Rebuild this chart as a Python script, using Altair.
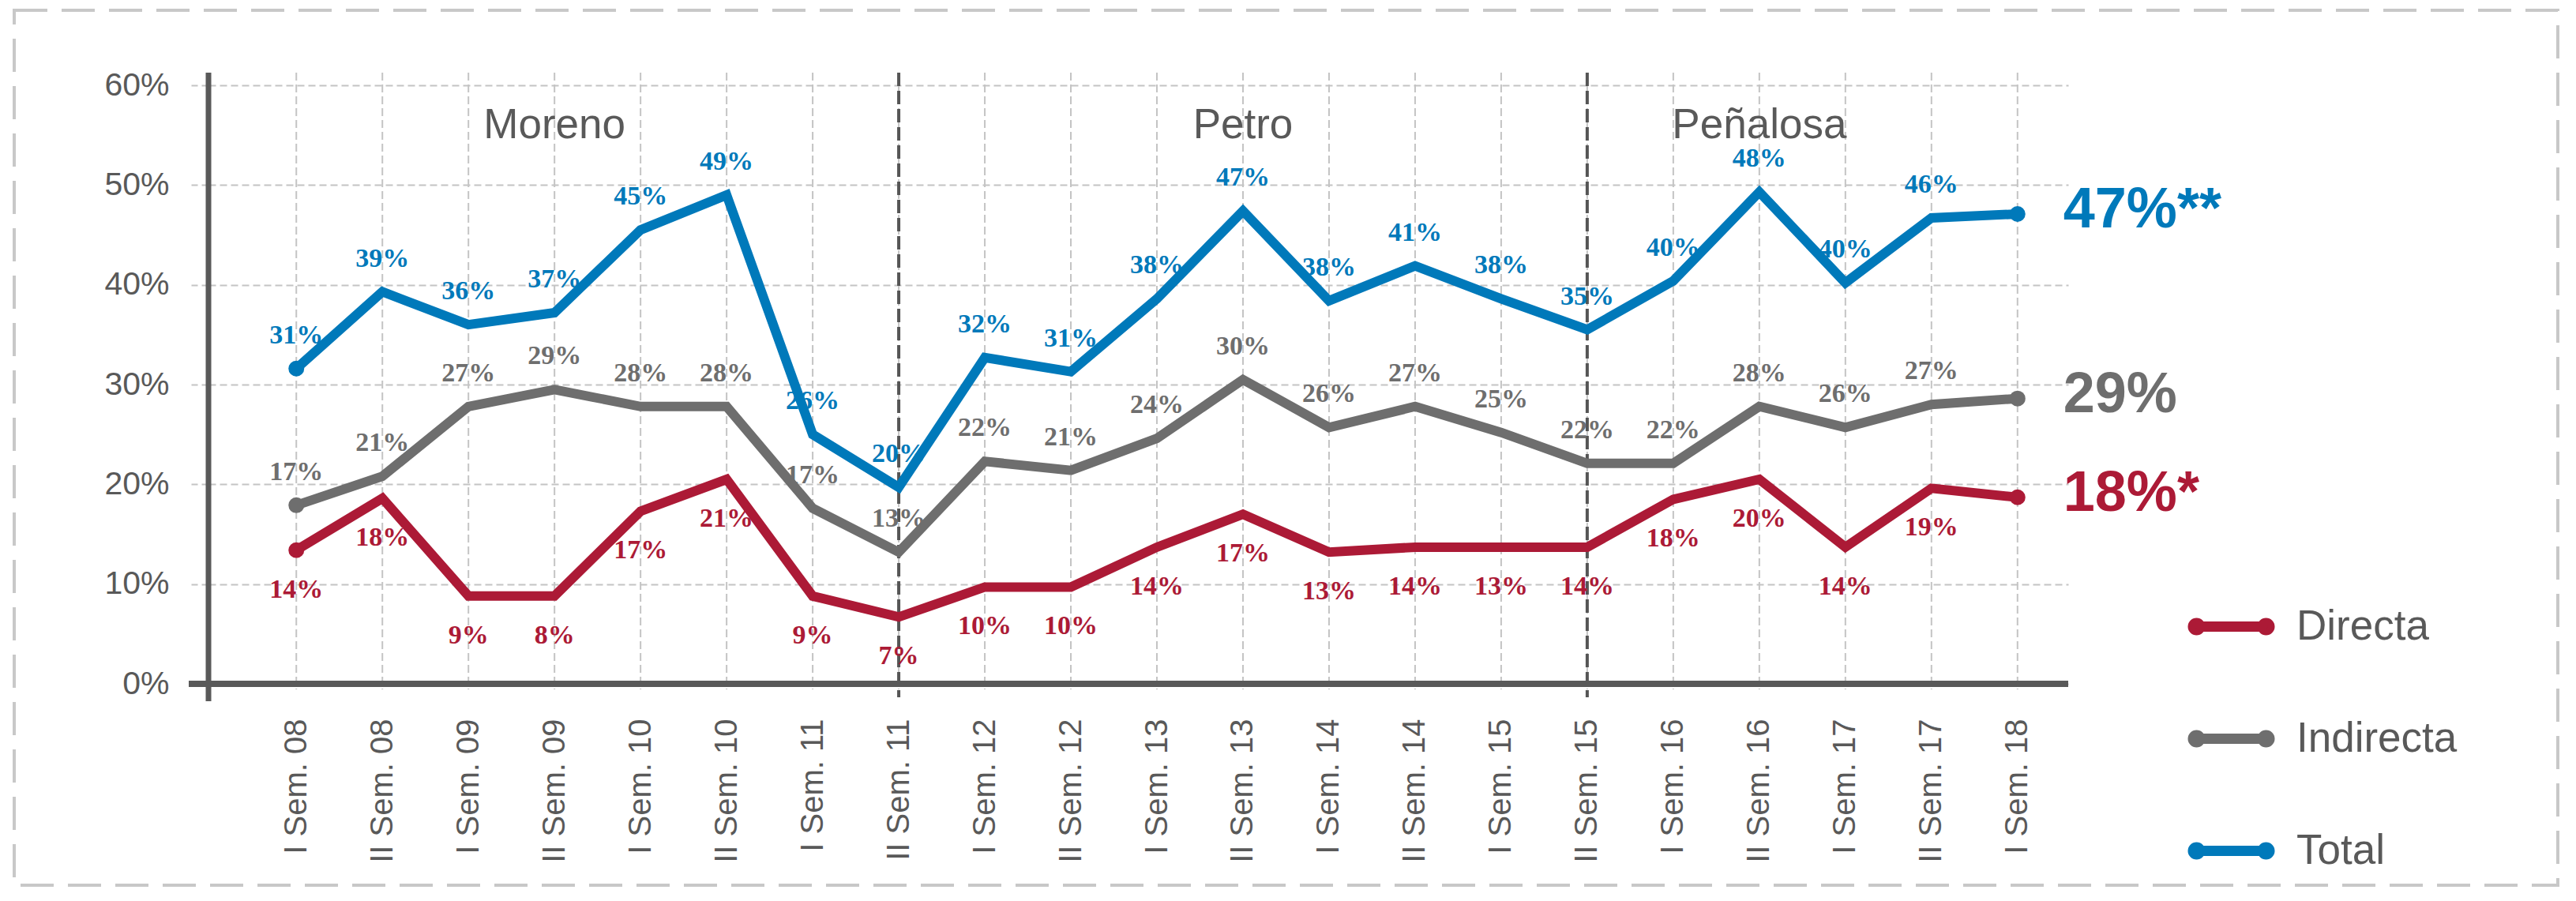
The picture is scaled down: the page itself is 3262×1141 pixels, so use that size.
import altair as alt
import pandas as pd

categories = ["I Sem. 08", "II Sem. 08", "I Sem. 09", "II Sem. 09", "I Sem. 10", "II Sem. 10",
              "I Sem. 11", "II Sem. 11", "I Sem. 12", "II Sem. 12", "I Sem. 13", "II Sem. 13",
              "I Sem. 14", "II Sem. 14", "I Sem. 15", "II Sem. 15", "I Sem. 16", "II Sem. 16",
              "I Sem. 17", "II Sem. 17", "I Sem. 18"]

series_names = ["Directa", "Indirecta", "Total"]
series_colors = ["#AC1A36", "#6E6E6E", "#0079BA"]

directa = [13.4, 18.6, 8.8, 8.8, 17.3, 20.5, 8.8, 6.7, 9.7, 9.7, 13.7, 17.0, 13.2, 13.7,
           13.7, 13.7, 18.5, 20.5, 13.7, 19.6, 18.7]
indirecta = [17.9, 20.8, 27.8, 29.5, 27.8, 27.8, 17.6, 13.2, 22.3, 21.4, 24.6, 30.5, 25.7, 27.8,
             25.2, 22.1, 22.1, 27.8, 25.7, 28.0, 28.6]
total = [31.6, 39.3, 36.0, 37.2, 45.5, 49.0, 25.0, 19.7, 32.7, 31.3, 38.6, 47.4, 38.4, 41.9,
         38.6, 35.5, 40.4, 49.3, 40.2, 46.7, 47.1]

directa_labels = ["14%", "18%", "9%", "8%", "17%", "21%", "9%", "7%", "10%", "10%", "14%", "17%",
                  "13%", "14%", "13%", "14%", "18%", "20%", "14%", "19%"]
indirecta_labels = ["17%", "21%", "27%", "29%", "28%", "28%", "17%", "13%", "22%", "21%", "24%",
                    "30%", "26%", "27%", "25%", "22%", "22%", "28%", "26%", "27%"]
total_labels = ["31%", "39%", "36%", "37%", "45%", "49%", "26%", "20%", "32%", "31%", "38%", "47%",
                "38%", "41%", "38%", "35%", "40%", "48%", "40%", "46%"]

end_labels = ["18%*", "29%", "47%**"]

periods = ["Moreno", "Petro", "Peñalosa"]
period_anchor = ["II Sem. 09", "II Sem. 13", "II Sem. 16"]
period_breaks = ["II Sem. 11", "II Sem. 15"]

y_ticks = [0, 0.1, 0.2, 0.3, 0.4, 0.5, 0.6]

# ---- tables built from the lists ----
values = {"Directa": directa, "Indirecta": indirecta, "Total": total}
labels = {"Directa": directa_labels, "Indirecta": indirecta_labels, "Total": total_labels}
rows = []
for s in series_names:
    for i, c in enumerate(categories):
        rows.append({"cat": c, "series": s, "value": values[s][i] / 100, "idx": i,
                     "label": labels[s][i] if i < len(labels[s]) else ""})
df = pd.DataFrame(rows)
cat_df = pd.DataFrame({"cat": categories})
break_df = pd.DataFrame({"cat": period_breaks})
period_df = pd.DataFrame({"cat": period_anchor, "name": periods})
end_df = pd.DataFrame({"cat": [categories[-1]] * 3, "series": series_names,
                       "value": [values[s][-1] / 100 for s in series_names],
                       "label": end_labels})
one = pd.DataFrame({"k": [0]})

W, H = 2355, 758
SANS = "Liberation Sans, Arial, sans-serif"
SERIF = "Liberation Serif, Times New Roman, serif"
AXIS_GREY = "#595959"

xscale = alt.Scale(type="point", padding=0.805, align=0.634)
yscale = alt.Scale(domain=[0, 0.6], nice=False, zero=False)
cscale = alt.Scale(domain=series_names, range=series_colors)

x_axis = alt.Axis(domain=False, ticks=False, grid=False, labelAngle=270,
                  labelFontSize=40, labelFont=SANS, labelColor=AXIS_GREY,
                  labelPadding=44, labelLimit=400, title=None)
y_axis = alt.Axis(values=y_ticks, format=".0%", domain=False,
                  grid=True, gridColor="#C4C4C4", gridDash=[9, 5], gridWidth=2,
                  ticks=True, tickSize=22, tickColor="#C4C4C4", tickDash=[9, 5],
                  tickWidth=2, labelFontSize=41, labelFont=SANS,
                  labelColor=AXIS_GREY, labelPadding=28, title=None)

X = alt.X("cat:N", sort=categories, scale=xscale, axis=x_axis)
Y = alt.Y("value:Q", scale=yscale, axis=y_axis)

legend_path = ("M-0.8,0L0.8,0"
               "M-0.718,0A0.082,0.082,0,1,1,-0.882,0A0.082,0.082,0,1,1,-0.718,0Z"
               "M0.882,0A0.082,0.082,0,1,1,0.718,0A0.082,0.082,0,1,1,0.882,0Z")

frame = alt.Chart(one).mark_rect(fill="transparent", stroke="#C8C8C8", strokeWidth=4,
                                 strokeDash=[42, 18]).encode(
    x=alt.value(-246), x2=alt.value(2975), y=alt.value(-95), y2=alt.value(1013))

# vertical dashed grid per category
vgrid = alt.Chart(cat_df).mark_rule(color="#C4C4C4", strokeWidth=2, strokeDash=[10, 5]).encode(
    x=X, y=alt.value(-16), y2=alt.value(765))

breaks = alt.Chart(break_df).mark_rule(color="#555555", strokeWidth=4, strokeDash=[17, 6]).encode(
    x=X, y=alt.value(-16), y2=alt.value(775))

yline = alt.Chart(one).mark_rule(color=AXIS_GREY, strokeWidth=7).encode(
    x=alt.value(0), y=alt.value(-16), y2=alt.value(780))
xline = alt.Chart(one).mark_rule(color=AXIS_GREY, strokeWidth=8).encode(
    x=alt.value(-25), x2=alt.value(W), y=alt.value(H))

lines = alt.Chart(df).mark_line(strokeWidth=12, strokeJoin="miter").encode(
    x=X, y=Y, order=alt.Order("idx:Q"),
    color=alt.Color("series:N", scale=cscale,
                    legend=alt.Legend(orient="none", legendX=2500, legendY=624, title=None,
                                      direction="vertical", symbolType=legend_path,
                                      symbolSize=12100, symbolStrokeWidth=13,
                                      labelFontSize=53, labelFont=SANS, labelColor=AXIS_GREY,
                                      labelLimit=500, labelOffset=21, rowPadding=49,
                                      padding=0)))

dots = alt.Chart(df).transform_filter(
    (alt.datum.idx == 0) | (alt.datum.idx == len(categories) - 1)
).mark_circle(size=400, opacity=1).encode(
    x=X, y=Y, fill=alt.Fill("series:N", scale=cscale, legend=None))

label_dy = {"Directa": 50, "Indirecta": -42, "Total": -42}
label_layers = []
for s in series_names:
    label_layers.append(
        alt.Chart(df).transform_filter(
            (alt.datum.series == s) & (alt.datum.label != "")
        ).mark_text(font=SERIF, fontSize=34, fontWeight="bold", dy=label_dy[s],
                    baseline="middle", align="center").encode(
            x=X, y=Y, text="label:N",
            fill=alt.Fill("series:N", scale=cscale, legend=None)))

end_text = alt.Chart(end_df).mark_text(font=SANS, fontSize=72, fontWeight="bold", dx=58, dy=-5,
                                       align="left", baseline="middle").encode(
    x=X, y=Y, text="label:N", fill=alt.Fill("series:N", scale=cscale, legend=None))

period_text = alt.Chart(period_df).mark_text(font=SANS, fontSize=53, color=AXIS_GREY,
                                             baseline="middle", align="center").encode(
    x=X, y=alt.value(51), text="name:N")

chart = alt.layer(frame, vgrid, breaks, yline, xline, lines, dots,
                  *label_layers, end_text, period_text).properties(
    width=W, height=H,
    padding={"left": 256, "top": 100, "right": 625, "bottom": 260},
    autosize=alt.AutoSizeParams(type="none"),
    background="white",
).configure_view(strokeWidth=0)

chart.save("out.html", embed_options={"renderer": "svg", "actions": False})
